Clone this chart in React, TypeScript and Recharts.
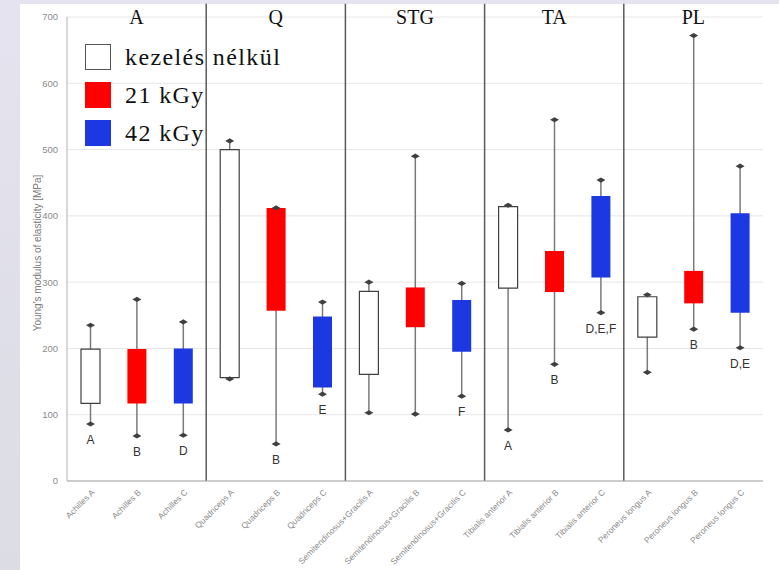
import React from "react"
import {
    ComposedChart,
    Bar,
    Cell,
    XAxis,
    YAxis,
    CartesianGrid,
    ReferenceLine,
    ReferenceDot,
    LabelList,
} from "recharts"

const categories = [
    "Achilles A", "Achilles B", "Achilles C",
    "Quadriceps A", "Quadriceps B", "Quadriceps C",
    "Semitendinosus+Gracilis A", "Semitendinosus+Gracilis B", "Semitendinosus+Gracilis C",
    "Tibialis anterior A", "Tibialis anterior B", "Tibialis anterior C",
    "Peroneus longus A", "Peroneus longus B", "Peroneus longus C",
]
const minVals = [86, 68, 69, 154, 56, 131, 103, 101, 128, 77, 176, 254, 164, 229, 201]
const q1Vals = [117, 117, 117, 156, 257, 141, 161, 232, 195, 291, 285, 307, 217, 268, 254]
const q3Vals = [199, 199, 200, 500, 412, 248, 286, 292, 273, 414, 347, 430, 278, 317, 404]
const maxVals = [235, 274, 240, 513, 412, 270, 300, 490, 298, 416, 545, 454, 281, 672, 475]
const sigLabels = ["A", "B", "D", "", "B", "E", "", "", "F", "A", "B", "D,E,F", "", "B", "D,E"]
const groupNames = ["A", "Q", "STG", "TA", "PL"]
const legendNames = ["kezelés nélkül", "21 kGy", "42 kGy"]
const yTicks = [0, 100, 200, 300, 400, 500, 600, 700]

const FILLS = ["#ffffff", "#ff0000", "#1c38e0"]
const SERIF = "'Liberation Serif', 'Times New Roman', serif"
const SANS = "'Liberation Sans', Arial, sans-serif"

const data = categories.map((name, i) => ({
    idx: i,
    name,
    whisker: [minVals[i], maxVals[i]],
    box: [q1Vals[i], q3Vals[i]],
    sig: sigLabels[i],
}))

const WhiskerLine = ({ x, y, width, height }: any) => {
    const cx = x + width / 2
    const top = Math.min(y, y + height)
    const bot = Math.max(y, y + height)
    return <line x1={cx} x2={cx} y1={top} y2={bot} stroke="#7a7a7a" strokeWidth={1.5} />
}

const diamond = (cx: number, cy: number) =>
    `${cx - 4.5},${cy} ${cx},${cy - 2.6} ${cx + 4.5},${cy} ${cx},${cy + 2.6}`

const WhiskerEnds = ({ x, y, width, height }: any) => {
    const cx = x + width / 2
    const top = Math.min(y, y + height)
    const bot = Math.max(y, y + height)
    return (
        <g>
            <polygon points={diamond(cx, top)} fill="#404040" />
            <polygon points={diamond(cx, bot)} fill="#404040" />
        </g>
    )
}

const SigLabel = ({ x, y, width, height, value }: any) => {
    if (!value) return null
    const bot = Math.max(y, y + height)
    return (
        <text
            x={x + width / 2}
            y={bot + 16}
            textAnchor="middle"
            dominantBaseline="central"
            fontSize={12}
            fill="#333"
            fontFamily={SANS}
        >
            {value}
        </text>
    )
}

const XTick = ({ x, y, payload }: any) => {
    const tx = x + 5
    const ty = y + 10
    return (
        <text
            x={tx}
            y={ty}
            transform={`rotate(-45 ${tx} ${ty})`}
            textAnchor="end"
            fontSize={8.5}
            fill="#8c8c8c"
            fontFamily={SANS}
        >
            {categories[payload.value]}
        </text>
    )
}

const YLabel = ({ viewBox }: any) => {
    const cx = viewBox.x + 10
    const cy = viewBox.y + viewBox.height / 2 + 4
    return (
        <text
            x={cx}
            y={cy}
            transform={`rotate(-90 ${cx} ${cy})`}
            textAnchor="middle"
            dominantBaseline="central"
            fontSize={10}
            fill="#7a7a7a"
            fontFamily={SANS}
        >
            Young's modulus of elasticity [MPa]
        </text>
    )
}

const domainX: [number, number] = [-0.5, 14.5]

export default function App() {
    return (
        <div
            style={{
                position: "fixed",
                left: 0,
                top: 0,
                width: 779,
                height: 570,
                background: "linear-gradient(#e4e3ef, #dcdce4)",
                fontFamily: SANS,
            }}
        >
            <div style={{ position: "absolute", left: 20, top: 4, right: 0, bottom: 0, background: "#fff" }} />
            <div style={{ position: "absolute", left: 0, top: 0 }}>
                <ComposedChart
                    width={779}
                    height={570}
                    data={data}
                    margin={{ top: 17, right: 16, bottom: 4, left: 27 }}
                >
                    <CartesianGrid vertical={false} stroke="#e6e6e6" />
                    <XAxis
                        dataKey="idx"
                        type="number"
                        domain={domainX}
                        ticks={data.map((d) => d.idx)}
                        interval={0}
                        tick={<XTick />}
                        tickLine={false}
                        tickSize={0}
                        height={85}
                        axisLine={{ stroke: "#a6a6a6" }}
                    />
                    <XAxis xAxisId="w" dataKey="idx" type="number" domain={domainX} hide />
                    <XAxis xAxisId="b" dataKey="idx" type="number" domain={domainX} hide />
                    <XAxis xAxisId="d" dataKey="idx" type="number" domain={domainX} hide />
                    <YAxis
                        domain={[0, 700]}
                        ticks={yTicks}
                        width={40}
                        tickLine={false}
                        tickSize={0}
                        tickMargin={9}
                        axisLine={{ stroke: "#b0b0b0" }}
                        tick={{ fontSize: 9.5, fill: "#8a8a8a", fontFamily: SANS }}
                        label={<YLabel />}
                    />
                    {[2.5, 5.5, 8.5, 11.5].map((sx) => (
                        <ReferenceLine
                            key={sx}
                            segment={[{ x: sx, y: 0 }, { x: sx, y: 720 }]}
                            stroke="#5a5a5a"
                            strokeWidth={1.5}
                            ifOverflow="visible"
                        />
                    ))}
                    {groupNames.map((g, i) => (
                        <ReferenceDot
                            key={g}
                            x={i * 3 + 1}
                            y={700}
                            r={0}
                            fill="none"
                            stroke="none"
                            label={{
                                value: g,
                                position: "center",
                                fontSize: 20,
                                fill: "#111",
                                fontFamily: SERIF,
                            }}
                        />
                    ))}
                    <Bar
                        xAxisId="w"
                        dataKey="whisker"
                        barSize={19}
                        shape={<WhiskerLine />}
                        isAnimationActive={false}
                    />
                    <Bar xAxisId="b" dataKey="box" barSize={19} isAnimationActive={false}>
                        {data.map((d, i) => (
                            <Cell
                                key={`box-${i}`}
                                fill={FILLS[i % 3]}
                                stroke={i % 3 === 0 ? "#404040" : "none"}
                                strokeWidth={1.2}
                            />
                        ))}
                    </Bar>
                    <Bar
                        xAxisId="d"
                        dataKey="whisker"
                        barSize={19}
                        shape={<WhiskerEnds />}
                        isAnimationActive={false}
                    >
                        <LabelList dataKey="sig" content={<SigLabel />} />
                    </Bar>
                </ComposedChart>
            </div>
            <div style={{ position: "absolute", left: 85, top: 38 }}>
                {legendNames.map((n, i) => (
                    <div
                        key={n}
                        style={{ display: "flex", alignItems: "center", height: 38 }}
                    >
                        <div
                            style={{
                                width: i === 0 ? 24 : 26,
                                height: i === 0 ? 24 : 26,
                                background: FILLS[i],
                                border: i === 0 ? "1px solid #555" : "none",
                                marginRight: 14,
                            }}
                        />
                        <span
                            style={{
                                fontFamily: SERIF,
                                fontSize: 24,
                                letterSpacing: 1.4,
                                color: "#111",
                                lineHeight: "26px",
                            }}
                        >
                            {n}
                        </span>
                    </div>
                ))}
            </div>
        </div>
    )
}
